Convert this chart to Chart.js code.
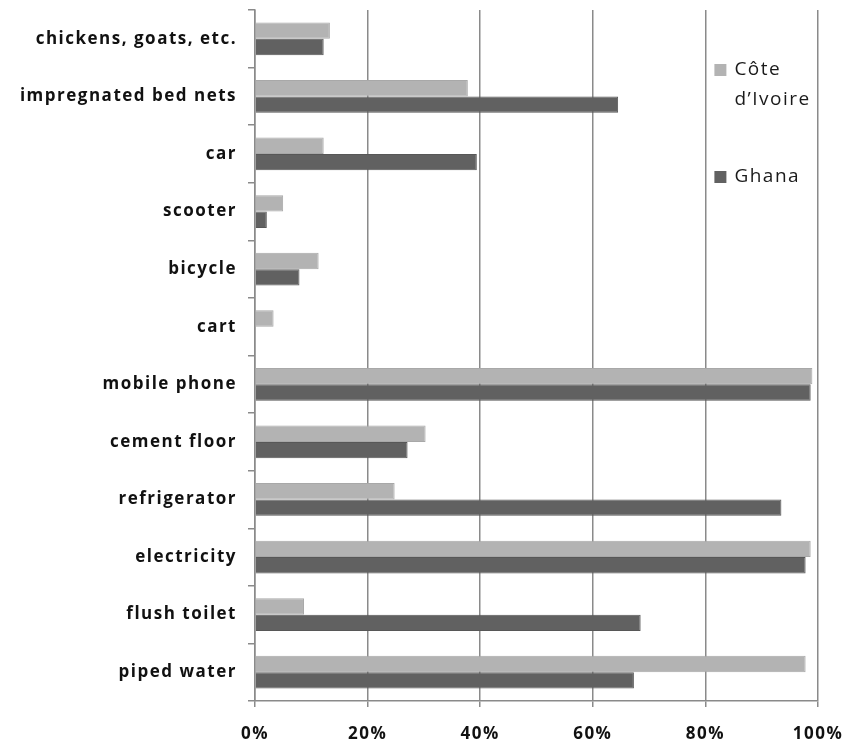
<!DOCTYPE html>
<html lang="en">
<head>
<meta charset="UTF-8">
<title>Household assets: Côte d'Ivoire vs Ghana</title>
<script src="https://cdn.jsdelivr.net/npm/chart.js"></script>
<style>
  body { margin: 0; background: #fff; }
  #wrap { width: 844px; height: 748px; }
</style>
</head>
<body>
<div id="wrap"><canvas id="chart" width="844" height="748"></canvas></div>
<script>
// categories, top to bottom as drawn
const categories = ['chickens, goats, etc.', 'impregnated bed nets', 'car', 'scooter', 'bicycle', 'cart',
  'mobile phone', 'cement floor', 'refrigerator', 'electricity', 'flush toilet', 'piped water'];
// share of households (%)
const coteDIvoire = [13.3, 37.8, 12.2, 5.0, 11.3, 3.3, 99.0, 30.3, 24.8, 98.7, 8.7, 97.8];
const ghana = [12.2, 64.5, 39.4, 2.1, 7.9, 0, 98.7, 27.1, 93.5, 97.8, 68.5, 67.3];
const xTicks = [0, 20, 40, 60, 80, 100];

const gridGray = '#8a8a8a';
const catFont = { family: '"Open Sans", sans-serif', size: 17, weight: 'bold' };
const tickFont = { family: '"Open Sans", sans-serif', size: 17, weight: 'bold' };

// the original text is set quite loose
const spacing = {
  id: 'spacing',
  beforeDraw(chart) { chart.ctx.letterSpacing = '1.5px'; }
};

// legend drawn inside the plot, between the 80% and 100% gridlines
const sideLegend = {
  id: 'sideLegend',
  afterDraw(chart) {
    const ctx = chart.ctx;
    const x = chart.scales.x;
    const left = x.getPixelForValue(80) + 9;
    const rows = [
      { ds: 0, y: 70, lines: ['Côte', 'd’Ivoire'] },
      { ds: 1, y: 177, lines: ['Ghana'] }
    ];
    ctx.save();
    ctx.font = '19px "Open Sans", sans-serif';
    ctx.letterSpacing = '1.5px';
    ctx.textBaseline = 'middle';
    rows.forEach(r => {
      ctx.fillStyle = chart.data.datasets[r.ds].backgroundColor;
      ctx.fillRect(left, r.y - 6, 12, 12);
      ctx.fillStyle = '#1a1a1a';
      r.lines.forEach((t, i) => ctx.fillText(t, left + 20, r.y + i * 30));
    });
    ctx.restore();
  }
};

new Chart(document.getElementById('chart'), {
  type: 'bar',
  data: {
    labels: categories,
    datasets: [
      { label: 'Côte d’Ivoire', data: coteDIvoire, backgroundColor: '#b3b3b3', borderColor: '#a8a8a8', borderWidth: 1, barPercentage: 1.0, categoryPercentage: 0.57 },
      { label: 'Ghana', data: ghana, backgroundColor: '#616161', borderColor: '#575757', borderWidth: 1, barPercentage: 1.0, categoryPercentage: 0.57 }
    ]
  },
  options: {
    indexAxis: 'y',
    responsive: false,
    animation: false,
    layout: { padding: { top: 10, right: 26, bottom: 0, left: 0 } },
    plugins: {
      legend: { display: false },
      tooltip: { enabled: false }
    },
    scales: {
      x: {
        min: 0,
        max: 100,
        afterBuildTicks: s => { s.ticks = xTicks.map(v => ({ value: v })); },
        afterFit: s => { s.height = 47; s.paddingLeft = 0; s.paddingRight = 0; },
        ticks: { callback: v => v + '%', color: '#111', font: tickFont, padding: 17 },
        grid: { color: gridGray, lineWidth: 1.5, tickLength: 6 },
        border: { color: gridGray, width: 1.5 }
      },
      y: {
        afterFit: s => { s.width = 255; s.paddingTop = 0; s.paddingBottom = 0; },
        ticks: { color: '#111', font: catFont, padding: 11 },
        grid: { drawOnChartArea: false, color: gridGray, lineWidth: 1.5, tickLength: 7 },
        border: { color: gridGray, width: 1.5 }
      }
    }
  },
  plugins: [spacing, sideLegend]
});
</script>
</body>
</html>
